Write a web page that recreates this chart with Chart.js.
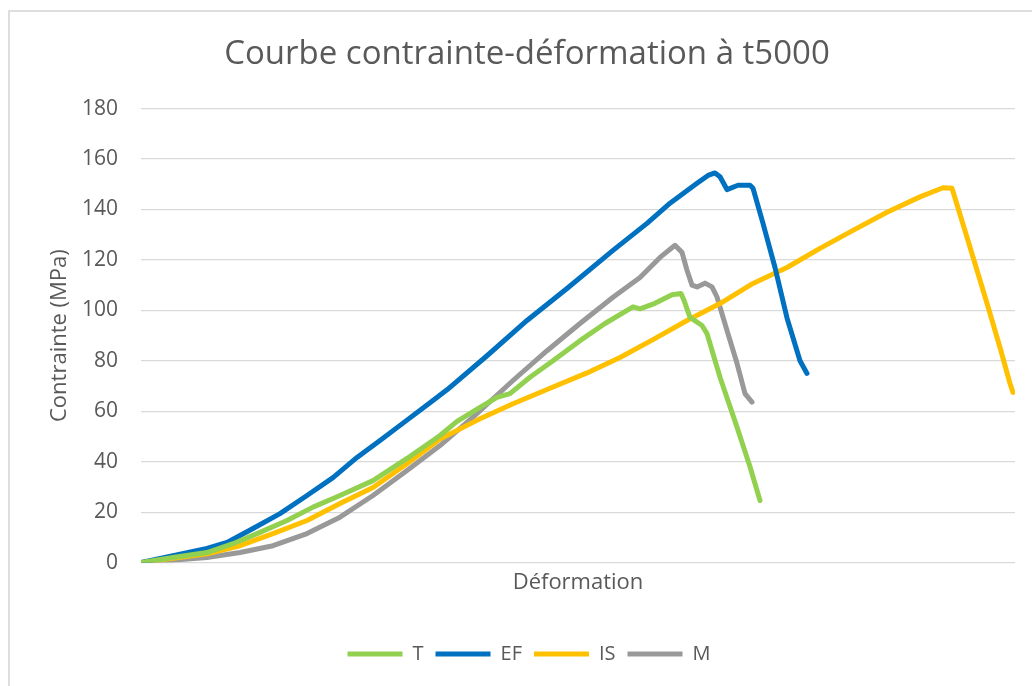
<!DOCTYPE html>
<html>
<head>
<meta charset="utf-8">
<script src="https://cdn.jsdelivr.net/npm/chart.js@4.4.1/dist/chart.umd.min.js"></script>
<style>
  html, body { margin: 0; padding: 0; background: #ffffff; overflow: hidden; width: 1032px; height: 686px; }
  #frame { position: absolute; left: 8px; top: 10px; width: 1100px; height: 1000px; border: 2px solid #dedede; box-sizing: border-box; }
  #wrap { position: absolute; left: 9px; top: 0; width: 1032px; height: 686px; }
</style>
</head>
<body>
<div id="frame"></div>
<div id="wrap"><canvas id="c" width="1032" height="686"></canvas></div>
<script>
// Séries : déformation (unités arbitraires) et contrainte (MPa)
const seriesNames = ['T', 'EF', 'IS', 'M'];
const yTicks = [0, 20, 40, 60, 80, 100, 120, 140, 160, 180];

const tX = [0, 0.32, 0.66, 0.92, 1.19, 1.46, 1.72, 1.99, 2.32, 2.66, 2.99, 3.16, 3.39, 3.56, 3.69, 3.89, 4.12, 4.39, 4.64, 4.92, 4.99, 5.14, 5.31, 5.40, 5.43, 5.49, 5.61, 5.66, 5.79, 5.96, 6.09, 6.19];
const tY = [0, 2.0, 4.0, 7.5, 12.0, 16.7, 22.0, 26.6, 32.5, 41.3, 50.4, 56.0, 61.5, 65.5, 67.0, 73.5, 80.0, 88.0, 94.8, 101.4, 100.6, 102.8, 106.2, 106.7, 104.0, 97.2, 94.0, 90.8, 73.5, 53.7, 38.0, 24.6];

const efX = [0, 0.32, 0.66, 0.86, 1.12, 1.39, 1.66, 1.92, 2.16, 2.39, 2.62, 2.89, 3.06, 3.46, 3.86, 4.26, 4.72, 5.06, 5.29, 5.56, 5.67, 5.74, 5.79, 5.86, 5.97, 6.09, 6.12, 6.22, 6.34, 6.46, 6.59, 6.66];
const efY = [0, 2.7, 5.6, 8.0, 13.5, 19.4, 26.6, 33.7, 41.7, 48.4, 55.3, 63.4, 68.5, 82.0, 96.0, 108.7, 123.8, 134.5, 142.5, 150.4, 153.5, 154.5, 153.0, 147.9, 149.6, 149.6, 148.4, 134.5, 117.0, 97.0, 80.0, 75.0];

const isX = [0, 0.66, 0.99, 1.32, 1.66, 1.99, 2.32, 2.66, 2.99, 3.32, 3.39, 3.72, 4.12, 4.46, 4.79, 5.12, 5.46, 5.79, 6.12, 6.46, 6.79, 7.12, 7.46, 7.79, 8.02, 8.11, 8.26, 8.46, 8.59, 8.69, 8.72];
const isY = [0, 3.5, 6.7, 11.5, 16.7, 23.4, 29.8, 39.2, 49.0, 55.6, 57.0, 63.0, 69.6, 75.2, 81.3, 88.4, 96.0, 102.7, 110.7, 117.0, 124.6, 131.7, 138.9, 145.0, 148.6, 148.4, 129.0, 102.8, 85.3, 71.0, 67.5];

const mX = [0, 0.66, 0.99, 1.32, 1.66, 1.99, 2.32, 2.66, 2.99, 3.32, 3.72, 4.06, 4.39, 4.72, 4.99, 5.19, 5.34, 5.41, 5.46, 5.51, 5.56, 5.64, 5.71, 5.76, 5.86, 5.96, 6.04, 6.11];
const mY = [0, 2.0, 4.0, 6.7, 11.5, 18.0, 26.6, 36.5, 46.4, 57.7, 72.2, 84.0, 94.8, 105.2, 113.0, 121.0, 125.8, 123.0, 115.9, 110.0, 109.3, 110.8, 109.3, 105.3, 92.0, 79.0, 67.0, 63.6];

const colors = ['#92D050', '#0070C0', '#FFC000', '#999999'];
const xs = [tX, efX, isX, mX];
const ys = [tY, efY, isY, mY];

const datasets = seriesNames.map((name, i) => ({
  label: name,
  data: xs[i].map((x, k) => ({ x: x, y: ys[i][k] })),
  borderColor: colors[i],
  backgroundColor: colors[i],
  borderWidth: 5,
  pointRadius: 0,
  pointHoverRadius: 0,
  tension: 0,
  borderCapStyle: 'round',
  borderJoinStyle: 'round',
  fill: false
}));

const FONT = "'Open Sans', 'Noto Sans', sans-serif";

// décale horizontalement le titre et la légende (centrés comme dans l'original)
const shiftBoxes = {
  id: 'shiftBoxes',
  afterLayout(chart) {
    const t = chart.titleBlock, l = chart.legend;
    if (t) { t.left += 15; t.right += 15; }
    if (l) { l.left += 17; l.right += 17; }
  }
};

new Chart(document.getElementById('c'), {
  type: 'line',
  data: { datasets: datasets },
  plugins: [shiftBoxes],
  options: {
    responsive: false,
    animation: false,
    events: [],
    layout: { padding: { left: 0, right: 26, top: 0, bottom: 12 } },
    plugins: {
      title: {
        display: true,
        text: 'Courbe contrainte-déformation à t5000',
        color: '#595959',
        font: { family: FONT, size: 33, weight: 'normal', lineHeight: 1.2 },
        padding: { top: 35, bottom: 34 }
      },
      legend: {
        display: true,
        position: 'bottom',
        labels: {
          color: '#595959',
          font: { family: FONT, size: 20, lineHeight: 1.2 },
          boxWidth: 55,
          boxHeight: 5,
          padding: 12,
          generateLabels: (chart) => chart.data.datasets.map((ds, i) => ({
            text: ds.label,
            fillStyle: ds.borderColor,
            strokeStyle: ds.borderColor,
            lineWidth: 0,
            fontColor: '#595959',
            datasetIndex: i,
            hidden: false
          }))
        }
      },
      tooltip: { enabled: false }
    },
    scales: {
      x: {
        type: 'linear',
        min: 0,
        max: 8.74,
        ticks: { display: false },
        grid: { display: false, drawTicks: false },
        border: { display: false },
        title: {
          display: true,
          text: 'Déformation',
          color: '#595959',
          font: { family: FONT, size: 22, lineHeight: 1.2 },
          padding: { top: 7, bottom: 36 }
        }
      },
      y: {
        min: 0,
        max: 180,
        afterFit: (scale) => { scale.width = 132; },
        afterBuildTicks: (scale) => { scale.ticks = yTicks.map(v => ({ value: v })); },
        ticks: {
          color: '#595959',
          font: { family: FONT, size: 21 },
          padding: 23
        },
        grid: { color: '#d9d9d9', lineWidth: 1.3, drawTicks: false },
        border: { display: false },
        title: {
          display: true,
          text: 'Contrainte (MPa)',
          color: '#595959',
          font: { family: FONT, size: 22, lineHeight: 1.2 },
          padding: { top: 38, bottom: 0 }
        }
      }
    }
  }
});
</script>
</body>
</html>
